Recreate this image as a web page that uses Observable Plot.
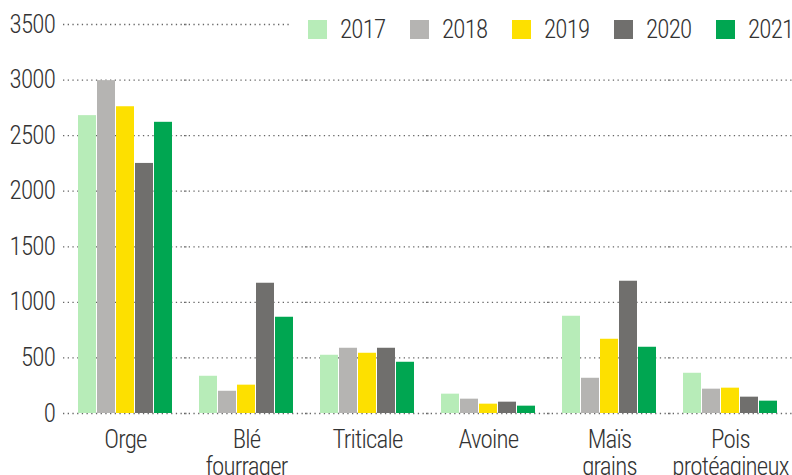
<!DOCTYPE html>
<html><head><meta charset="utf-8">
<script src="https://cdn.jsdelivr.net/npm/d3@7"></script>
<script src="https://cdn.jsdelivr.net/npm/@observablehq/plot@0.6"></script>
<style>
body{margin:0;background:#fff;}
#wrap{position:relative;width:792px;height:475px;overflow:hidden;font-family:"Roboto Condensed","Liberation Sans Narrow","Arial Narrow",Roboto,sans-serif;}
#legend{position:absolute;left:290px;top:13px;width:520px;padding-left:18px;background:#fff;white-space:nowrap;}
#wrap .lg-swatches{flex-wrap:nowrap;}
#wrap .lg-swatch{width:102px;margin-right:0;font-weight:300;letter-spacing:-0.8px;}
#wrap .lg-swatch > svg{margin-right:13px;}
</style></head><body><div id="wrap"><div id="chart"></div><div id="legend"></div></div>
<script>
const categories = ["Orge", "Blé\nfourrager", "Triticale", "Avoine", "Maïs\ngrains", "Pois\nprotéagineux"];
const years = ["2017", "2018", "2019", "2020", "2021"];
const v2017 = [2680, 335, 524, 174, 875, 362];
const v2018 = [2995, 200, 587, 129, 317, 219];
const v2019 = [2760, 255, 542, 84, 668, 228];
const v2020 = [2250, 1172, 587, 102, 1190, 147];
const v2021 = [2620, 866, 461, 66, 596, 111];
const colors = ["#b7ecb8", "#b5b4b2", "#fde000", "#706f6d", "#00a651"];
const yTicks = [0, 500, 1000, 1500, 2000, 2500, 3000, 3500];

const series = [v2017, v2018, v2019, v2020, v2021];
const data = [];
categories.forEach((c, i) => years.forEach((y, j) => data.push({category: c, year: y, value: series[j][i]})));

const font = "\"Roboto Condensed\",\"Liberation Sans Narrow\",\"Arial Narrow\",Roboto,sans-serif";

const chart = Plot.plot({
  width: 792, height: 475,
  marginTop: 24, marginBottom: 62, marginLeft: 62, marginRight: 0,
  style: {fontFamily: font, fontSize: "25px", fontWeight: 300, letterSpacing: "-0.8px", color: "#333", background: "#fff"},
  fx: {domain: categories, paddingInner: 0.209, paddingOuter: 0.111, label: null},
  x: {domain: years, paddingInner: 0.077, paddingOuter: 0, axis: null},
  y: {domain: [0, 3500], label: null},
  color: {domain: years, range: colors},
  marks: [
    Plot.ruleY(yTicks, {stroke: "#666", strokeWidth: 1.3, strokeDasharray: "1.3,3.4", insetLeft: -14, insetRight: -14}),
    Plot.barY(data, {fx: "category", x: "year", y: "value", fill: "year"}),
    Plot.axisY(yTicks, {anchor: "left", tickSize: 0, tickPadding: 9, dx: -13.5, label: null, fontSize: 25, fill: "#333", tickFormat: d => String(d)}),
    Plot.axisFx({anchor: "bottom", tickSize: 0, tickPadding: 15, label: null, fontSize: 25, lineHeight: 1.08, fill: "#333"})
  ]
});
document.getElementById("chart").appendChild(chart);

const legend = Plot.legend({
  color: {domain: years, range: colors},
  legend: "swatches",
  swatchSize: 19,
  className: "lg",
  style: {fontFamily: font, fontSize: "25px", color: "#333"}
});
document.getElementById("legend").appendChild(legend);
</script>
</body></html>
